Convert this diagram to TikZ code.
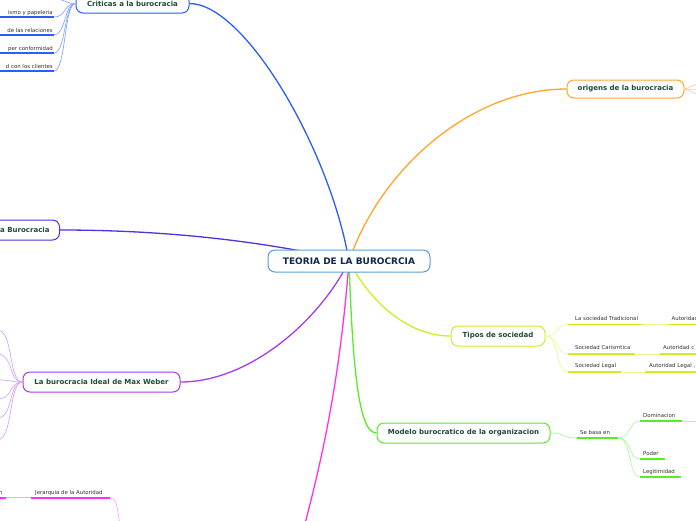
\documentclass[tikz,border=0pt]{standalone}
\usepackage{fontspec}
\setmainfont{DejaVu Sans}
\usetikzlibrary{backgrounds}
\definecolor{cen}{HTML}{5A9ED8}
\definecolor{cencol}{HTML}{14264A}
\definecolor{titlecol}{HTML}{1D4A3A}
\definecolor{lblcol}{HTML}{333333}
\definecolor{crit}{HTML}{2C5EF5}
\definecolor{critlight}{HTML}{8AA8FF}
\definecolor{bur}{HTML}{5530E0}
\definecolor{mw}{HTML}{A63CF0}
\definecolor{mwlight}{HTML}{D8A8FA}
\definecolor{mag}{HTML}{FF30F0}
\definecolor{maglight}{HTML}{FFA8F8}
\definecolor{grn}{HTML}{55EE22}
\definecolor{grnlight}{HTML}{B0F7A0}
\definecolor{yel}{HTML}{CCF022}
\definecolor{yellight}{HTML}{E8FA9A}
\definecolor{org}{HTML}{FFA530}
\definecolor{orglight}{HTML}{FFD099}
\begin{document}
\begin{tikzpicture}[x=1pt,y=-1pt,
  box/.style={draw, line width=1pt, rounded corners=7pt, fill=white, minimum height=20pt, inner sep=0pt, text=titlecol, font=\bfseries\fontsize{7}{8}\selectfont},
  ttl/.style={inner sep=0pt, text=titlecol, font=\bfseries\fontsize{7}{8}\selectfont},
  lbl/.style={inner sep=0pt, anchor=base west, text=lblcol, font=\fontsize{5.4}{6}\selectfont},
  branch/.style={line width=1.3pt},
  twig/.style={line width=0.7pt},
  uline/.style={line width=1.6pt}]
\useasboundingbox (0,0) rectangle (696,520);
\clip (0,0) rectangle (696,520);

% main boxes
\node[box, draw=cen, text=cencol, minimum width=162pt, minimum height=22pt, font=\bfseries\fontsize{9}{10}\selectfont] (c) at (349,261) {TEORIA DE LA BUROCRCIA};
\node[box, draw=crit, minimum width=113pt, minimum height=19pt] (crit) at (132.5,3.5) {Criticas a la burocracia};
\node[box, draw=bur, minimum width=100pt, anchor=east] (bur) at (60,230) {};
\node[ttl, anchor=base west] (burtext) at (0,232.5) {a Burocracia};
\node[box, draw=org, minimum width=117pt, minimum height=18pt] (orgn) at (625.5,89) {origens de la burocracia};
\node[box, draw=yel, minimum width=94pt] (tip) at (498,336) {Tipos de sociedad};
\node[box, draw=grn, minimum width=173pt] (mod) at (463.5,433) {Modelo burocratico de la organizacion};
\node[box, draw=mw, minimum width=157pt] (mw) at (101.5,382) {La burocracia Ideal de Max Weber};

% main connectors
\begin{scope}[on background layer]
\fill[white] (0,0) rectangle (696,520);
\clip (0,0) rectangle (696,520);
\coordinate (magend) at (302,535);
\draw[branch, crit] (crit.east) .. controls (245,3.5) and (330,150) .. (c.center);
\draw[branch, bur] (bur.east) .. controls (150,230) and (250,238) .. (c.center);
\draw[branch, org] (c.center) .. controls (380,170) and (470,89) .. (orgn.west);
\draw[branch, yel] (c.center) .. controls (372,305) and (410,336) .. (tip.west);
\draw[branch, grn] (c.center) .. controls (353,380) and (360,433) .. (mod.west);
\draw[branch, mw] (c.center) .. controls (320,320) and (250,382) .. (mw.east);
\draw[branch, mag] (c.center) .. controls (340,380) and (322,460) .. (magend);
\end{scope}

% Criticas sub-branches
\foreach \i/\y in {1/-1,2/17,3/35,4/53,5/71}{
  \coordinate (ka\i) at (-2,\y);
  \coordinate (kb\i) at (54,\y);
  \draw[twig, critlight] (crit.west) .. controls (64,3.5) and (66,\y) .. (kb\i);
  \draw[uline, crit] (ka\i) -- (kb\i);
}
\node[lbl, anchor=base east] (kt2) at (53,14) {ismo y papeleria};
\node[lbl, anchor=base east] (kt3) at (53,32) {de las relaciones};
\node[lbl, anchor=base east] (kt4) at (53,50) {per conformidad};
\node[lbl, anchor=base east] (kt5) at (53,68) {d con los clientes};

% origens fan
\foreach \i/\y in {1/84,2/89,3/94}{
  \coordinate (o\i) at (702,\y);
  \draw[twig, orglight] (orgn.east) .. controls (690,89) and (690,\y) .. (o\i);
}

% Max Weber fan
\foreach \i/\y in {1/330,2/354,3/380,4/399,5/418,6/440}{
  \coordinate (w\i) at (-3,\y);
  \draw[twig, mwlight] (mw.west) .. controls (8,382) and (14,\y) .. (w\i);
}

% Tipos de sociedad
\foreach \i/\y/\b/\c in {1/324.3/643/667.7, 2/354/635/660, 3/372/621/645}{
  \coordinate (ta\i) at (568,\y);
  \coordinate (tb\i) at (\b,\y);
  \coordinate (tc\i) at (\c,\y);
  \coordinate (td\i) at (700,\y);
  \draw[twig, yellight] (tip.east) .. controls (560,336) and (555,\y) .. (ta\i);
  \draw[uline, yel] (ta\i) -- (tb\i);
  \draw[twig, yellight] (tb\i) -- (tc\i);
  \draw[uline, yel] (tc\i) -- (td\i);
}
\node[lbl] (tt1) at (575,320) {La sociedad Tradicional};
\node[lbl] (tu1) at (671.5,320) {Autoridad};
\node[lbl] (tt2) at (575,349.7) {Sociedad Carismtica};
\node[lbl] (tu2) at (663,349.7) {Autoridad c};
\node[lbl] (tt3) at (575,367.7) {Sociedad Legal};
\node[lbl] (tu3) at (649,367.7) {Autoridad Legal ,};

% Modelo
\coordinate (sa) at (577,438);
\coordinate (sb) at (618,438);
\draw[twig, grnlight] (mod.east) .. controls (565,433) and (562,438) .. (sa);
\draw[uline, grn] (sa) -- (sb);
\node[lbl] (st) at (580,434) {Se basa en};
\foreach \i/\y/\e in {1/421/682, 2/459/665, 3/477/680.7}{
  \coordinate (da\i) at (640,\y);
  \coordinate (db\i) at (\e,\y);
  \draw[twig, grnlight] (sb) .. controls (632,438) and (628,\y) .. (da\i);
  \draw[uline, grn] (da\i) -- (db\i);
}
\coordinate (dc1) at (700,421);
\draw[twig, grnlight] (db1) -- (dc1);
\node[lbl] (dt1) at (643,417) {Dominacion};
\node[lbl] (dt2) at (643,455.3) {Poder};
\node[lbl] (dt3) at (643,473) {Legitimidad};

% Jerarquia
\coordinate (ja) at (-2,497.7);
\coordinate (jb) at (6,497.7);
\coordinate (jc) at (31,497.7);
\coordinate (jd) at (110,497.7);
\coordinate (je) at (120,525);
\draw[uline, mag] (ja) -- (jb);
\draw[twig, maglight] (jb) -- (jc);
\draw[uline, mag] (jc) -- (jd);
\draw[twig, maglight] (jd) .. controls (116,497.7) and (117,505) .. (je);
\node[lbl] (jt) at (35,494) {Jerarquia de la Autoridad};
\node[lbl, anchor=base east] (jn) at (2.5,494) {n};
\end{tikzpicture}
\end{document}
